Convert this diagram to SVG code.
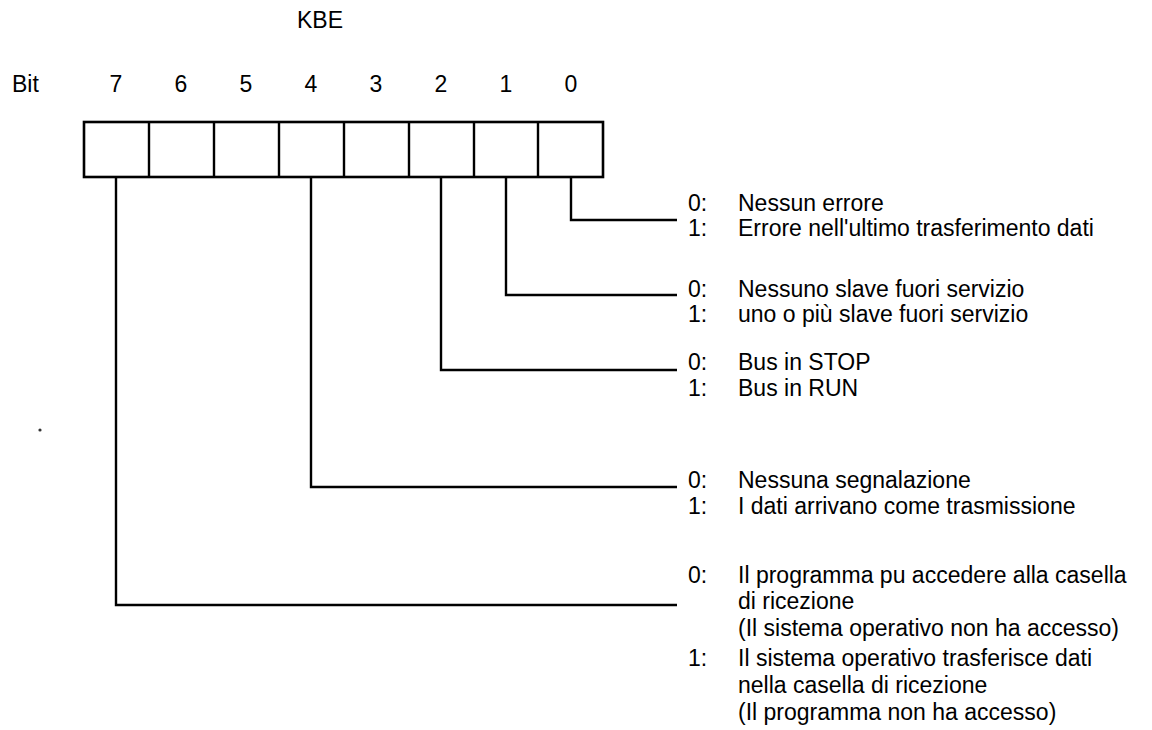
<svg xmlns="http://www.w3.org/2000/svg" width="1152" height="730" viewBox="0 0 1152 730">
  <style>
    text { font-family: "Liberation Sans", Arial, Helvetica, sans-serif; font-size: 23px; fill: #000; }
    .wire { fill: none; stroke: #000; stroke-width: 2.4; }
    .cell { fill: #fff; stroke: #000; stroke-width: 2.6; }
  </style>
  <rect width="1152" height="730" fill="#fff"/>

  <!-- title and bit numbering -->
  <g id="header">
    <text x="320" y="28" text-anchor="middle">KBE</text>
    <text x="12" y="92">Bit</text>
    <text x="116" y="92" text-anchor="middle">7</text>
    <text x="181" y="92" text-anchor="middle">6</text>
    <text x="246" y="92" text-anchor="middle">5</text>
    <text x="311" y="92" text-anchor="middle">4</text>
    <text x="376" y="92" text-anchor="middle">3</text>
    <text x="441" y="92" text-anchor="middle">2</text>
    <text x="506" y="92" text-anchor="middle">1</text>
    <text x="571" y="92" text-anchor="middle">0</text>
  </g>

  <!-- register byte: 8 bit cells -->
  <g id="register">
    <rect class="cell" x="84" y="122" width="519" height="55"/>
    <path class="wire" d="M149 122V177M214 122V177M279 122V177M344 122V177M409 122V177M474 122V177M538 122V177"/>
  </g>

  <!-- leader lines from bits to their descriptions -->
  <g id="connectors">
    <path class="wire" d="M571 177V220H677"/>
    <path class="wire" d="M506 177V295H677"/>
    <path class="wire" d="M441 177V370H677"/>
    <path class="wire" d="M311 177V487H677"/>
    <path class="wire" d="M116 177V605H677"/>
  </g>

  <g id="bit0">
    <text x="688" y="211">0:</text><text x="738" y="211">Nessun errore</text>
    <text x="688" y="236">1:</text><text x="738" y="236">Errore nell'ultimo trasferimento dati</text>
  </g>
  <g id="bit1">
    <text x="688" y="297">0:</text><text x="738" y="297">Nessuno slave fuori servizio</text>
    <text x="688" y="322">1:</text><text x="738" y="322">uno o più slave fuori servizio</text>
  </g>
  <g id="bit2">
    <text x="688" y="370">0:</text><text x="738" y="370">Bus in STOP</text>
    <text x="688" y="396">1:</text><text x="738" y="396">Bus in RUN</text>
  </g>
  <g id="bit4">
    <text x="688" y="488">0:</text><text x="738" y="488">Nessuna segnalazione</text>
    <text x="688" y="514">1:</text><text x="738" y="514">I dati arrivano come trasmissione</text>
  </g>
  <g id="bit7">
    <text x="688" y="583">0:</text><text x="738" y="583">Il programma pu accedere alla casella</text>
    <text x="738" y="609">di ricezione</text>
    <text x="738" y="636">(Il sistema operativo non ha accesso)</text>
    <text x="688" y="666">1:</text><text x="738" y="666">Il sistema operativo trasferisce dati</text>
    <text x="738" y="693">nella casella di ricezione</text>
    <text x="738" y="720">(Il programma non ha accesso)</text>
  </g>

  <circle cx="40" cy="430" r="1.6" fill="#333"/>
</svg>
